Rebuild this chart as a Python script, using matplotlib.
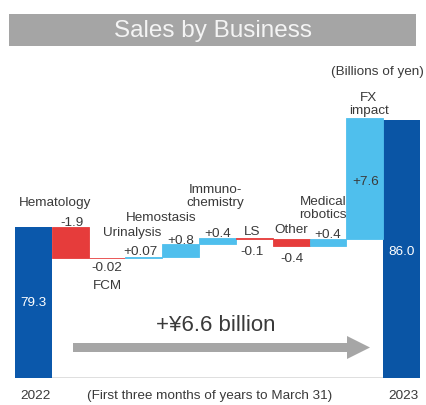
import matplotlib
matplotlib.use("Agg")
import matplotlib.pyplot as plt
from matplotlib.patches import Rectangle, FancyArrow
from matplotlib.transforms import IdentityTransform

plt.rcParams['font.family'] = ['Liberation Sans', 'DejaVu Sans']

# data (billions of yen)
start_label, end_label = '2022', '2023'
start_value = 79.3
end_value = 86.0
businesses = ['Hematology', 'FCM', 'Urinalysis', 'Hemostasis', 'Immuno-\nchemistry',
              'LS', 'Other', 'Medical\nrobotics', 'FX\nimpact']
changes = [-1.9, -0.02, 0.07, 0.8, 0.4, -0.1, -0.4, 0.4, 7.6]
change_text = ['-1.9', '-0.02', '+0.07', '+0.8', '+0.4', '-0.1', '-0.4', '+0.4', '+7.6']

# label placement per business: (name side, name dx, name dy, value side, value dx, value dy)
# side 'up' = above bar top, 'down' = below bar bottom, 'in' = middle of bar
label_pos = [
    ('up', -15, 19, 'up', 2, -1),
    ('down', 0, -21.5, 'down', 0, -3.5),
    ('up', -12, 19, 'up', -3, 0),
    ('up', -19, 21, 'up', 0, -2),
    ('up', -2, 30, 'up', 0, -1),
    ('up', -2, 1, 'down', -2, -5.5),
    ('up', 0, 4, 'down', 1, -6.5),
    ('up', -5, 19.5, 'up', 0, -1),
    ('up', 4, 2, 'in', 1, -2.5),
]

DARK = '#0b58ab'
DARK2 = '#0a55a5'
RED = '#e63c3b'
LIGHT = '#4fbfed'
TXT = '#3a3a3a'

W, H = 427, 406
fig = plt.figure(figsize=(W / 100, H / 100), dpi=100)


def fx(x):
    return x / W


def fy(y):
    return 1 - y / H


ax = fig.add_axes([fx(15), fy(378.5), 405 / W, 278.5 / H])
ax.set_xlim(-0.5, 10.5)
ax.set_ylim(69.9, 69.9 + 278.5 / 16.0)
ax.axis('off')
ax.axhline(69.9, color='#d9d9d9', lw=1.2, zorder=0)

ymin = ax.get_ylim()[0]

# totals
ax.bar(0, start_value - ymin, bottom=ymin, width=1.0, color=DARK, zorder=2)
ax.bar(10, end_value - ymin, bottom=ymin, width=1.0, color=DARK2, zorder=2)

level = start_value
tops, bottoms = [], []
for i, ch in enumerate(changes):
    lo, hi = min(level, level + ch), max(level, level + ch)
    col = LIGHT if ch > 0 else RED
    ax.bar(i + 1, hi - lo, bottom=lo, width=1.0, color=col, edgecolor=col,
           lw=0.6, zorder=2)
    tops.append(hi)
    bottoms.append(lo)
    level += ch

kw = dict(textcoords='offset pixels', fontsize=9.7, color=TXT, ha='center')
for i, (name, txt, pos) in enumerate(zip(businesses, change_text, label_pos)):
    nside, ndx, ndy, vside, vdx, vdy = pos
    x = i + 1
    mid = (tops[i] + bottoms[i]) / 2
    ref = {'up': tops[i], 'down': bottoms[i], 'in': mid}
    va = {'up': 'bottom', 'down': 'top', 'in': 'center'}
    ax.annotate(name, (x, ref[nside]), xytext=(ndx, ndy), va=va[nside],
                linespacing=1.05, **kw)
    ax.annotate(txt, (x, ref[vside]), xytext=(vdx, vdy), va=va[vside], **kw)

# values inside total bars
ax.annotate(f'{start_value:.1f}', (0, (start_value + ymin) / 2), xytext=(0, 0),
            textcoords='offset pixels', ha='center', va='center', fontsize=9.7, color='white')
ax.annotate(f'{end_value:.1f}', (10, (end_value + ymin) / 2), xytext=(0, -2),
            textcoords='offset pixels', ha='center', va='center', fontsize=9.7, color='white')

# title banner
fig.patches.append(Rectangle((fx(9), fy(47)), 407 / W, 32 / H, transform=fig.transFigure,
                             facecolor='#a5a5a5', edgecolor='none'))
fig.text(fx(213.5), fy(31), 'Sales by Business', ha='center', va='center',
         fontsize=17.5, color='#f4f4f4')
fig.text(fx(424), fy(72), '(Billions of yen)', ha='right', va='center',
         fontsize=9.7, color=TXT)

# overall change arrow
fig.patches.append(FancyArrow(73, H - 348.5, 297, 0, width=9, head_width=23,
                              head_length=23, length_includes_head=True,
                              transform=IdentityTransform(), facecolor='#a6a6a6',
                              edgecolor='none'))
fig.text(fx(216), fy(325.5), '+¥6.6 billion', ha='center', va='center',
         fontsize=16, color=TXT)

fig.text(fx(36), fy(396.5), start_label, ha='center', va='center', fontsize=9.7, color=TXT)
fig.text(fx(403), fy(396.5), end_label, ha='center', va='center', fontsize=9.7, color=TXT)
fig.text(fx(210), fy(396.5), '(First three months of years to March 31)', ha='center',
         va='center', fontsize=9.7, color=TXT)

fig.savefig('out.png', dpi=100, facecolor='white')
